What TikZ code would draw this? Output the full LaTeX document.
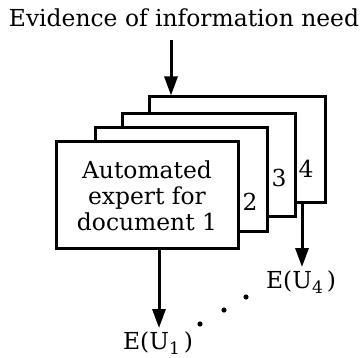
\documentclass[tikz,border=0pt]{standalone}
\usepackage{fontspec}
\setmainfont{DejaVu Serif}
\usetikzlibrary{arrows.meta}
\tikzset{
  doc/.style={draw, line width=3pt, fill=white, inner sep=0pt},
  arr/.style={line width=3pt, -{Triangle[length=19pt,width=13pt]}},
  big/.style={font=\fontsize{23.4}{26}\selectfont},
}
\newcommand{\EU}[1]{E(U\lower5pt\hbox{\fontsize{17}{17}\selectfont #1}\,)}
\begin{document}
\begin{tikzpicture}
[x=1pt,y=-1pt]
\useasboundingbox (0,0) rectangle (362,358);
\node [big] (need) at (184,18) {Evidence of information need};
% stacked experts, back to front
\node [doc, minimum width=176pt, minimum height=106pt] (d4) at (237,150) {};
\node [doc, minimum width=173pt, minimum height=103pt] (d3) at (208.5,165.5) {};
\node [doc, minimum width=172pt, minimum height=104pt] (d2) at (181,180) {};
\node [doc, minimum width=182pt, minimum height=107pt, big, align=center] (d1) at (147,195.5)
  {Automated\\expert for\\document 1};
\node [big] (n2) at (250,202) {2};
\node [big] (n3) at (279,178) {3};
\node [big] (n4) at (306,169) {4};
% inputs and outputs
\coordinate (in) at (171,40);
\draw [arr] (in) -- (in |- d4.north);
\node [big] (u1) at (158,343) {\EU{1}};
\node [big] (u4) at (301,282) {\EU{4}};
\coordinate (o1) at (159,0);
\coordinate (o4) at (302,0);
\draw [arr] (o1 |- d1.south) -- (o1 |- u1.north);
\draw [arr] (o4 |- d4.south) -- (o4 |- u4.north);
\fill (200,324) circle (2.6pt);
\fill (224,310) circle (2.6pt);
\fill (246,297) circle (2.6pt);
\end{tikzpicture}
\end{document}
